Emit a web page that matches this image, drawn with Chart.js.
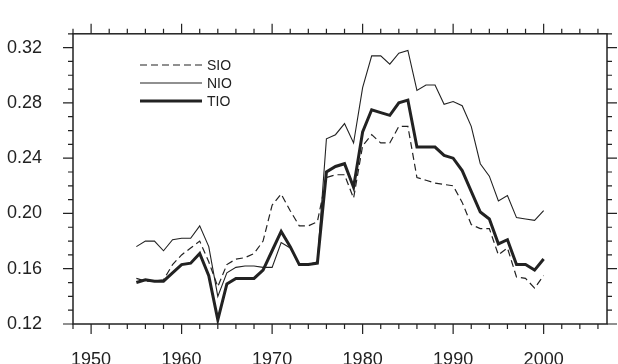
<!DOCTYPE html>
<html lang="en">
<head>
  <meta charset="UTF-8">
  <title>SIO NIO TIO</title>
  <script src="https://cdn.jsdelivr.net/npm/chart.js"></script>
  <style>
    body { margin: 0; background: #fff; }
  </style>
</head>
<body>
  <canvas id="myChart" width="618" height="364"></canvas>
  <script>
    const years = [1955, 1956, 1957, 1958, 1959, 1960, 1961, 1962, 1963, 1964,
      1965, 1966, 1967, 1968, 1969, 1970, 1971, 1972, 1973, 1974,
      1975, 1976, 1977, 1978, 1979, 1980, 1981, 1982, 1983, 1984,
      1985, 1986, 1987, 1988, 1989, 1990, 1991, 1992, 1993, 1994,
      1995, 1996, 1997, 1998, 1999, 2000]

    const sio = [0.153, 0.151, 0.151, 0.152, 0.163, 0.170, 0.175, 0.180, 0.165, 0.147,
      0.163, 0.167, 0.168, 0.171, 0.180, 0.206, 0.214, 0.202, 0.191, 0.191,
      0.194, 0.226, 0.228, 0.228, 0.211, 0.249, 0.257, 0.251, 0.251, 0.263,
      0.263, 0.226, 0.224, 0.222, 0.221, 0.220, 0.208, 0.192, 0.189, 0.189,
      0.170, 0.175, 0.154, 0.153, 0.146, 0.155]

    const nio = [0.176, 0.180, 0.180, 0.173, 0.181, 0.182, 0.182, 0.191, 0.176, 0.140,
      0.157, 0.161, 0.162, 0.162, 0.161, 0.161, 0.179, 0.175, 0.163, 0.163,
      0.165, 0.254, 0.257, 0.265, 0.251, 0.291, 0.314, 0.314, 0.308, 0.316,
      0.318, 0.289, 0.293, 0.293, 0.279, 0.281, 0.278, 0.263, 0.236, 0.227,
      0.209, 0.213, 0.197, 0.196, 0.195, 0.202]

    const tio = [0.150, 0.152, 0.151, 0.151, 0.157, 0.163, 0.164, 0.171, 0.155, 0.123,
      0.149, 0.153, 0.153, 0.153, 0.159, 0.173, 0.187, 0.176, 0.163, 0.163,
      0.164, 0.230, 0.234, 0.236, 0.219, 0.259, 0.275, 0.273, 0.271, 0.280,
      0.282, 0.248, 0.248, 0.248, 0.242, 0.240, 0.231, 0.216, 0.201, 0.196,
      0.178, 0.181, 0.163, 0.163, 0.159, 0.167]

    const xTicks = [1950, 1960, 1970, 1980, 1990, 2000]
    const yTicks = [0.12, 0.16, 0.20, 0.24, 0.28, 0.32]

    const ink = '#222'
    const font = "'Liberation Sans', Arial, sans-serif"

    function pts(arr) {
      return years.map((y, i) => ({ x: y, y: arr[i] }))
    }

    // frame, outward ticks on all four sides and the legend box
    const framePlugin = {
      id: 'frame',
      afterDraw(chart) {
        const { ctx, chartArea: a, scales } = chart
        const xs = scales.x, ys = scales.y
        ctx.save()
        ctx.strokeStyle = ink
        ctx.lineWidth = 1.5
        ctx.strokeRect(a.left, a.top, a.right - a.left, a.bottom - a.top)

        ctx.lineWidth = 1.2
        ctx.beginPath()
        for (let v = 1948; v <= 2006; v += 2) {
          const px = xs.getPixelForValue(v)
          const len = xTicks.includes(v) ? 10 : 5
          ctx.moveTo(px, a.bottom); ctx.lineTo(px, a.bottom + len)
          ctx.moveTo(px, a.top); ctx.lineTo(px, a.top - len)
        }
        for (let k = 12; k <= 33; k++) {
          const py = ys.getPixelForValue(k / 100)
          const len = (k % 4 === 0) ? 10 : 5
          ctx.moveTo(a.left, py); ctx.lineTo(a.left - len, py)
          ctx.moveTo(a.right, py); ctx.lineTo(a.right + len, py)
        }
        ctx.stroke()

        // legend
        ctx.font = '14px ' + font
        ctx.fillStyle = ink
        ctx.textBaseline = 'middle'
        chart.data.datasets.forEach((ds, i) => {
          const y = 65 + i * 18
          ctx.beginPath()
          ctx.lineWidth = ds.borderWidth
          ctx.setLineDash(ds.borderDash || [])
          ctx.moveTo(140, y); ctx.lineTo(202, y)
          ctx.stroke()
          ctx.setLineDash([])
          ctx.fillText(ds.label, 207, y + 1)
        })
        ctx.restore()
      }
    }

    new Chart(document.getElementById('myChart'), {
      type: 'line',
      data: {
        datasets: [
          { label: 'SIO', data: pts(sio), borderColor: ink, borderWidth: 1.2, borderDash: [7, 4], pointRadius: 0 },
          { label: 'NIO', data: pts(nio), borderColor: ink, borderWidth: 1.1, pointRadius: 0 },
          { label: 'TIO', data: pts(tio), borderColor: ink, borderWidth: 3, pointRadius: 0 }
        ]
      },
      options: {
        responsive: false,
        animation: false,
        layout: { padding: { top: 20, right: 11, left: 0, bottom: 0 } },
        plugins: { legend: { display: false }, tooltip: { enabled: false } },
        scales: {
          x: {
            type: 'linear',
            min: 1948,
            max: 2007,
            grid: { display: false },
            border: { display: false },
            afterBuildTicks: (s) => { s.ticks = xTicks.map(v => ({ value: v })) },
            afterFit: (s) => { s.height = 40 },
            ticks: {
              color: ink,
              padding: 17,
              maxRotation: 0,
              font: { family: font, size: 18 },
              callback: (v) => String(v)
            }
          },
          y: {
            type: 'linear',
            min: 0.12,
            max: 0.33,
            grid: { display: false },
            border: { display: false },
            afterBuildTicks: (s) => { s.ticks = yTicks.map(v => ({ value: v })) },
            afterFit: (s) => { s.width = 73 },
            ticks: {
              color: ink,
              padding: 23,
              font: { family: font, size: 18 },
              callback: (v) => v.toFixed(2)
            }
          }
        }
      },
      plugins: [framePlugin]
    })
  </script>
</body>
</html>
